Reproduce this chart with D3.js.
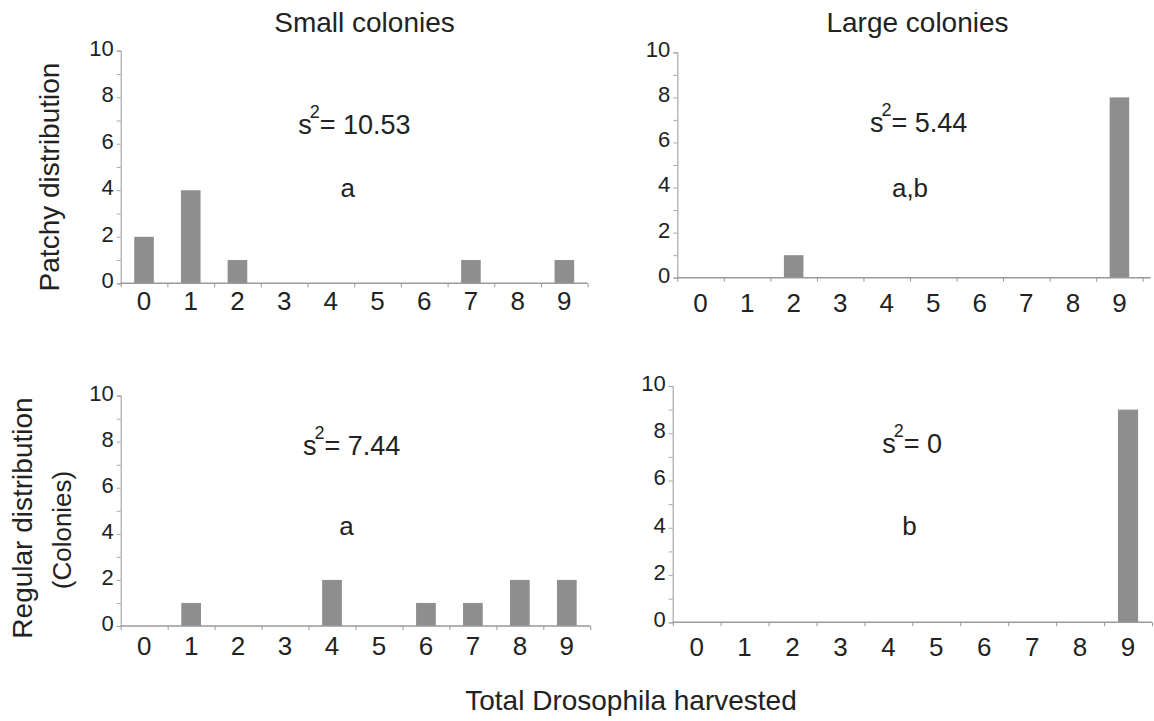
<!DOCTYPE html>
<html>
<head>
<meta charset="utf-8">
<script src="https://cdn.jsdelivr.net/npm/d3@7"></script>
<style>
  body { margin: 0; background: #fff; }
  text { font-family: "Liberation Sans", Arial, sans-serif; fill: #222; }
</style>
</head>
<body>
<div id="chart"></div>
<script>
// Data
const categories = ["0", "1", "2", "3", "4", "5", "6", "7", "8", "9"];
const smallPatchy = [2, 4, 1, 0, 0, 0, 0, 1, 0, 1];
const largePatchy = [0, 0, 1, 0, 0, 0, 0, 0, 0, 8];
const smallRegular = [0, 1, 0, 0, 2, 0, 1, 1, 2, 2];
const largeRegular = [0, 0, 0, 0, 0, 0, 0, 0, 0, 9];
const yTickValues = [0, 1, 2, 3, 4, 5, 6, 7, 8, 9, 10];
const variances = ["10.53", "5.44", "7.44", "0"];
const groupLetters = ["a", "a,b", "a", "b"];

// Panel layout (pixels) + annotation spots (in data units)
const panels = [
    { values: smallPatchy, x0: 120.7, x1: 587.7, yZero: 283.3, yTop: 50.7, labelY: 27, ext: 0,
      s2: [3.80, 6.44], letter: [4.86, 3.72] },
    { values: largePatchy, x0: 677.3, x1: 1142.7, yZero: 277.7, yTop: 52.3, labelY: 34, ext: 8,
      s2: [4.14, 6.48], letter: [5.0, 3.59] },
    { values: smallRegular, x0: 120.7, x1: 590.3, yZero: 626, yTop: 395.6, labelY: 29, ext: 0,
      s2: [3.88, 7.42], letter: [4.81, 3.95] },
    { values: largeRegular, x0: 672.7, x1: 1152, yZero: 622.3, yTop: 386, labelY: 34, ext: 0,
      s2: [4.37, 7.16], letter: [4.94, 3.70] }
];

const svg = d3.select("#chart")
    .append("svg")
    .attr("width", 1154)
    .attr("height", 721);

panels.forEach((p, i) => {
    const g = svg.append("g");

    const x = d3.scaleBand()
        .domain(categories)
        .range([p.x0, p.x1])
        .paddingInner(0.58)
        .paddingOuter(0.29);

    const xLin = d3.scaleLinear()
        .domain([0, categories.length])
        .range([p.x0, p.x1]);

    const y = d3.scaleLinear()
        .domain([0, 10])
        .range([p.yZero, p.yTop]);

    // bars
    g.selectAll(".bar")
        .data(categories.map((c, k) => ({ c, v: p.values[k] })).filter(d => d.v > 0))
        .enter()
        .append("rect")
        .attr("class", "bar")
        .attr("x", d => x(d.c))
        .attr("width", x.bandwidth())
        .attr("y", d => y(d.v))
        .attr("height", d => y(0) - y(d.v))
        .attr("fill", "#8e8e8e");

    // y axis
    const yAxis = g.append("g")
        .attr("transform", `translate(${p.x0},0)`)
        .call(d3.axisLeft(y)
            .tickValues(yTickValues)
            .tickSize(4)
            .tickPadding(3)
            .tickFormat(d => d % 2 ? "" : d));
    yAxis.select(".domain").attr("stroke", "#aaa").attr("stroke-width", 1.2);
    yAxis.selectAll(".tick line").attr("stroke", "#aaa");
    yAxis.selectAll("text")
        .attr("dy", "0.2em")
        .style("font-size", "22px")
        .style("font-family", "'Liberation Sans', Arial, sans-serif")
        .attr("fill", "#222");

    // x axis ticks at the band edges
    const xTicks = g.append("g")
        .attr("transform", `translate(0,${p.yZero})`)
        .call(d3.axisBottom(xLin)
            .tickValues(d3.range(0, categories.length + 1))
            .tickSize(4)
            .tickSizeOuter(0)
            .tickFormat(""));
    xTicks.select(".domain").remove();
    xTicks.selectAll(".tick line").attr("stroke", "#999");
    g.append("line")
        .attr("x1", p.x0).attr("x2", p.x1 + p.ext)
        .attr("y1", p.yZero).attr("y2", p.yZero)
        .attr("stroke", "#999")
        .attr("stroke-width", 1.6);

    // x labels at band centres
    const xLabels = g.append("g")
        .attr("transform", `translate(0,${p.yZero})`)
        .call(d3.axisBottom(x).tickSize(0));
    xLabels.select(".domain").remove();
    xLabels.selectAll("text")
        .attr("y", p.labelY)
        .attr("dy", null)
        .style("font-size", "26px")
        .style("font-family", "'Liberation Sans', Arial, sans-serif")
        .attr("fill", "#222");

    // s^2 annotation
    const s2 = g.append("text")
        .attr("x", xLin(p.s2[0]))
        .attr("y", y(p.s2[1]))
        .style("font-size", "27px");
    s2.append("tspan").text("s");
    s2.append("tspan").attr("dx", -2).attr("dy", -16).style("font-size", "18px").text("2");
    s2.append("tspan").attr("dy", 16).text("= " + variances[i]);

    g.append("text")
        .attr("x", xLin(p.letter[0]))
        .attr("y", y(p.letter[1]))
        .attr("text-anchor", "middle")
        .style("font-size", "26px")
        .text(groupLetters[i]);
});

// Column titles
svg.append("text")
    .attr("x", 364.5).attr("y", 32)
    .attr("text-anchor", "middle")
    .style("font-size", "28px")
    .text("Small colonies");

svg.append("text")
    .attr("x", 917.5).attr("y", 32)
    .attr("text-anchor", "middle")
    .style("font-size", "28px")
    .text("Large colonies");

// Row titles
svg.append("text")
    .attr("transform", "translate(59,177) rotate(-90)")
    .attr("text-anchor", "middle")
    .style("font-size", "28px")
    .text("Patchy distribution");

svg.append("text")
    .attr("transform", "translate(32,518) rotate(-90)")
    .attr("text-anchor", "middle")
    .style("font-size", "28px")
    .text("Regular distribution");

svg.append("text")
    .attr("transform", "translate(71,530) rotate(-90)")
    .attr("text-anchor", "middle")
    .style("font-size", "26px")
    .text("(Colonies)");

// X title
svg.append("text")
    .attr("x", 631).attr("y", 710)
    .attr("text-anchor", "middle")
    .style("font-size", "28px")
    .text("Total Drosophila harvested");
</script>
</body>
</html>
